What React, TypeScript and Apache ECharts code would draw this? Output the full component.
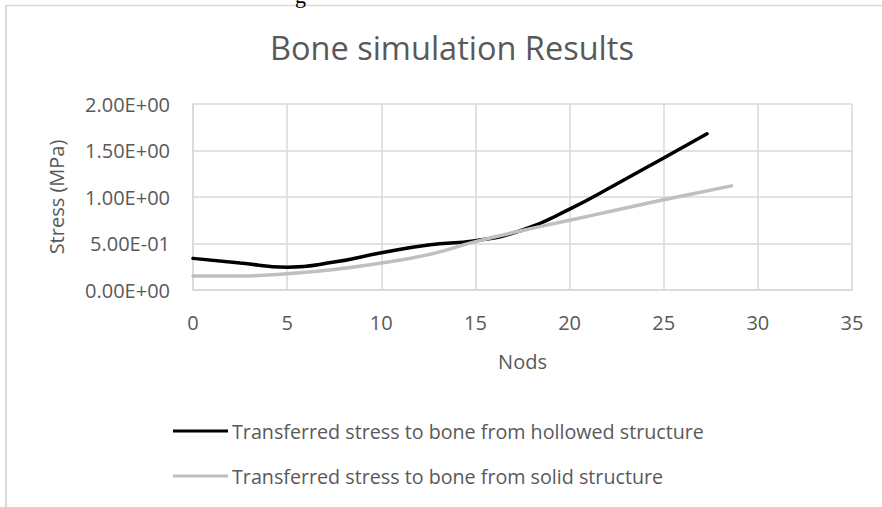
import React, { useEffect, useRef } from "react";
import * as echarts from "echarts";

const TITLE = "Bone simulation Results";
const X_NAME = "Nods";
const Y_NAME = "Stress (MPa)";
const SERIES_NAMES = [
  "Transferred stress to bone from hollowed structure",
  "Transferred stress to bone from solid structure",
];

const hollowX = [0, 2.5, 5, 7.5, 10, 12.5, 15, 17.5, 20, 22.5, 25, 27.3];
const hollowY = [0.34, 0.29, 0.245, 0.3, 0.4, 0.485, 0.53, 0.645, 0.87, 1.14, 1.42, 1.68];

const solidX = [0, 2.5, 5, 7.5, 10, 12.5, 15, 17.5, 20, 22.5, 25, 28.6];
const solidY = [0.15, 0.15, 0.175, 0.22, 0.29, 0.38, 0.52, 0.64, 0.75, 0.86, 0.97, 1.12];

const FONT = "'Open Sans', sans-serif";
const TEXT = "#595959";
const GRID = "#d9d9d9";

function fmtExp(v: number): string {
  const s = v.toExponential(2);
  const [m, e] = s.split("e");
  const sign = e[0] === "-" ? "-" : "+";
  const digits = e.replace(/[+-]/, "").padStart(2, "0");
  return `${m}E${sign}${digits}`;
}

export default function App() {
  const ref = useRef<HTMLDivElement>(null);
  useEffect(() => {
    document.body.style.margin = "0";
    const chart = echarts.init(ref.current!, undefined, { renderer: "svg" });
    const hollow = hollowX.map((x, i) => [x, hollowY[i]]);
    const solid = solidX.map((x, i) => [x, solidY[i]]);
    chart.setOption({
      animation: false,
      backgroundColor: "#ffffff",
      title: {
        text: TITLE,
        left: 270,
        top: 31,
        padding: 0,
        textStyle: { fontFamily: FONT, fontSize: 32.5, fontWeight: "normal", color: TEXT },
      },
      graphic: [
        { type: "line", shape: { x1: 6, y1: 5.5, x2: 882, y2: 5.5 }, style: { stroke: GRID, lineWidth: 1.5 } },
        { type: "line", shape: { x1: 6, y1: 5, x2: 6, y2: 507 }, style: { stroke: GRID, lineWidth: 2 } },
        { type: "text", x: 295, y: -16, style: { text: "g", font: "22px 'Liberation Serif', serif", fill: "#000" } },
      ],
      grid: { left: 193, top: 104, right: 30, bottom: 217, containLabel: false },
      legend: {
        orient: "vertical",
        left: 173,
        top: 421,
        padding: 0,
        icon: "rect",
        itemWidth: 55,
        itemHeight: 3,
        itemGap: 25,
        textStyle: { fontFamily: FONT, fontSize: 19.7, color: TEXT, padding: [0, 0, 0, -1] },
        data: SERIES_NAMES,
      },
      xAxis: {
        type: "value",
        min: 0,
        max: 35,
        interval: 5,
        name: X_NAME,
        nameLocation: "middle",
        nameGap: 61,
        nameTextStyle: { fontFamily: FONT, fontSize: 20, color: TEXT },
        axisLine: { show: true, lineStyle: { color: GRID, width: 1.5 } },
        axisTick: { show: false },
        axisLabel: { fontFamily: FONT, fontSize: 20, color: TEXT, margin: 22 },
        splitLine: { show: true, lineStyle: { color: GRID, width: 1.5 } },
      },
      yAxis: {
        type: "value",
        min: 0,
        max: 2,
        interval: 0.5,
        name: Y_NAME,
        nameLocation: "middle",
        nameGap: 127,
        nameTextStyle: { fontFamily: FONT, fontSize: 20, color: TEXT },
        axisLine: { show: true, lineStyle: { color: GRID, width: 1.5 } },
        axisTick: { show: false },
        axisLabel: { fontFamily: FONT, fontSize: 20, color: TEXT, margin: 23, formatter: (v: number) => fmtExp(v) },
        splitLine: { show: true, lineStyle: { color: GRID, width: 1.5 } },
      },
      series: [
        {
          name: SERIES_NAMES[0],
          type: "line",
          data: hollow,
          smooth: 0.5,
          showSymbol: false,
          symbol: "none",
          itemStyle: { color: "#000000" },
          lineStyle: { color: "#000000", width: 3.5, cap: "round" },
        },
        {
          name: SERIES_NAMES[1],
          type: "line",
          data: solid,
          smooth: 0.5,
          showSymbol: false,
          symbol: "none",
          itemStyle: { color: "#bfbfbf" },
          lineStyle: { color: "#bfbfbf", width: 3.5, cap: "round" },
        },
      ],
    });
    return () => chart.dispose();
  }, []);
  return <div ref={ref} style={{ width: 882, height: 507, position: "fixed", left: 0, top: 0 }} />;
}
